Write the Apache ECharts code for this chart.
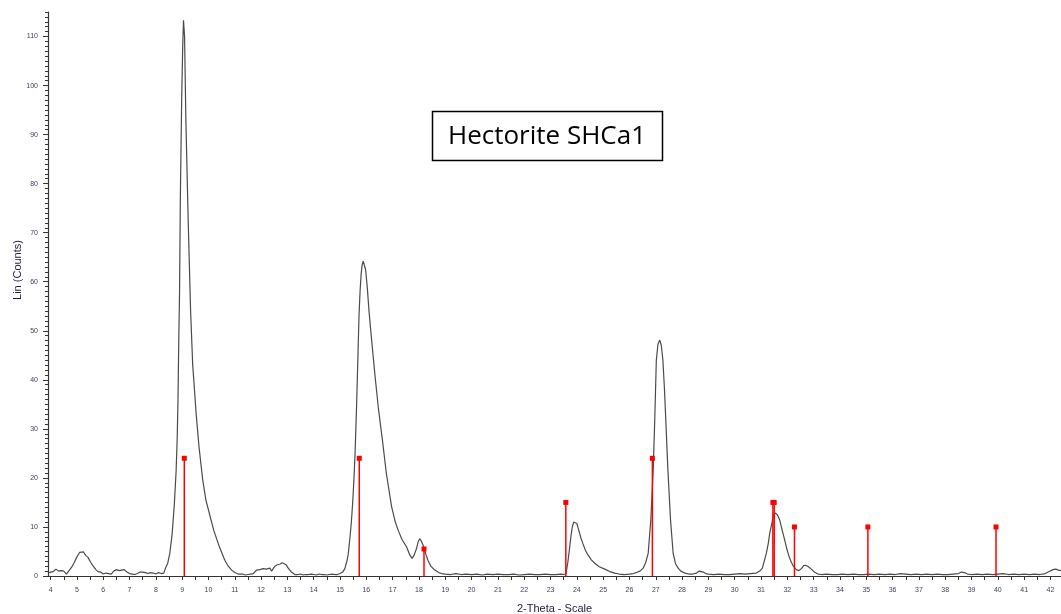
<!DOCTYPE html>
<html>
<head>
<meta charset="utf-8">
<script src="https://cdn.jsdelivr.net/npm/echarts@6/dist/echarts.min.js"></script>
<style>
html,body{margin:0;padding:0;background:#fff;}
#chart{width:1061px;height:614px;}
</style>
</head>
<body>
<div id="chart"></div>
<script>
// Measured XRD scan: [2-theta (deg), counts]
const scan = [
 [3.9,0.6],[4.0,0.8],[4.1,0.9],[4.2,1.4],[4.3,1.0],[4.4,1.1],[4.5,1.0],[4.6,0.4],[4.7,1.1],[4.8,1.8],
 [4.9,2.8],[5.0,3.9],[5.1,4.8],[5.17,5.2],[5.25,4.9],[5.33,4.2],[5.42,3.8],[5.52,2.8],[5.62,2.0],[5.72,1.3],
 [5.8,0.9],[5.9,0.8],[6.0,0.4],[6.1,0.6],[6.2,0.5],[6.3,0.4],[6.4,1.0],[6.5,1.3],[6.6,1.1],[6.7,1.2],
 [6.8,1.3],[6.9,0.8],[7.0,0.5],[7.1,0.4],[7.2,0.3],[7.3,0.5],[7.4,0.8],[7.5,0.8],[7.6,0.7],[7.7,0.5],
 [7.8,0.7],[7.9,0.6],[8.0,0.4],[8.1,0.7],[8.2,0.5],[8.3,0.6],[8.38,1.8],[8.45,2.6],[8.53,4.6],[8.62,8.7],
 [8.7,14.5],[8.77,21.5],[8.81,28],[8.84,35.8],[8.87,48],[8.9,58],[8.93,77],[8.98,97],[9.02,108],[9.05,113.3],
 [9.09,110],[9.14,93],[9.23,72],[9.32,54],[9.4,43],[9.46,38.5],[9.53,33.1],[9.64,26.3],[9.78,19.6],[9.9,15.5],
 [10.03,12.8],[10.2,9.3],[10.41,6.0],[10.62,3.2],[10.75,2.0],[10.88,1.2],[11.0,0.7],[11.13,0.4],
 [11.2,0.3],[11.3,0.4],[11.4,0.2],[11.5,0.3],[11.6,0.4],[11.7,0.5],[11.83,1.2],[11.95,1.3],[12.08,1.5],[12.2,1.4],
 [12.33,1.6],[12.4,1.0],[12.52,2.0],[12.62,2.3],[12.71,2.4],[12.8,2.7],[12.86,3.0],[12.95,2.3],[13.03,1.6],[13.15,0.8],
 [13.28,0.3],[13.4,0.3],[13.5,0.4],[13.6,0.2],[13.7,0.3],[13.8,0.3],[13.9,0.4],[14.0,0.3],[14.1,0.2],[14.2,0.4],
 [14.3,0.3],[14.4,0.3],[14.5,0.2],[14.6,0.3],[14.7,0.4],[14.8,0.3],[14.9,0.3],[15.0,0.5],[15.1,0.8],[15.18,1.5],
 [15.25,2.8],[15.31,4.4],[15.37,7.5],[15.43,11],[15.48,15],[15.53,20],[15.57,25],[15.6,30],[15.63,35],[15.66,41],
 [15.69,47],[15.72,53],[15.76,58],[15.8,61.5],[15.84,63.5],[15.88,64.2],[15.92,63.8],[15.97,62.5],[16.04,58.5],[16.1,54],
 [16.2,48.1],[16.32,41.3],[16.45,34.5],[16.61,27.7],[16.76,20.9],[16.96,14.1],[17.1,11],[17.21,9.3],[17.35,7.5],[17.53,5.9],
 [17.65,4.3],[17.74,3.6],[17.82,4.3],[17.9,5.5],[17.97,7.0],[18.03,7.6],[18.1,7.0],[18.19,5.8],[18.27,4.3],[18.34,3.2],
 [18.45,2.0],[18.6,1.2],[18.75,0.7],[18.86,0.5],
 [19.0,0.4],[19.2,0.3],[19.4,0.5],[19.6,0.3],[19.8,0.4],[20.0,0.3],[20.2,0.4],[20.4,0.2],[20.6,0.4],[20.8,0.3],
 [21.0,0.4],[21.2,0.3],[21.4,0.3],[21.6,0.4],[21.8,0.2],[22.0,0.3],[22.2,0.4],[22.4,0.3],[22.6,0.3],[22.8,0.4],
 [23.0,0.3],[23.2,0.3],[23.4,0.4],[23.5,0.3],
 [23.58,0.4],[23.65,2.5],[23.73,6.0],[23.78,8.3],[23.83,10.1],[23.88,11.0],[23.94,11.3],[24.0,10.7],[24.08,9.2],[24.15,7.8],
 [24.23,6.6],[24.32,5.3],[24.42,4.3],[24.55,3.3],[24.68,2.6],[24.85,1.9],[25.06,1.4],[25.25,0.9],[25.44,0.6],
 [25.6,0.4],[25.8,0.3],[26.0,0.4],[26.15,0.5],
 [26.26,0.7],[26.4,1.0],[26.52,1.6],[26.62,2.8],[26.71,4.6],[26.81,11.4],[26.87,18],[26.9,21.6],[26.96,31.8],[27.02,44],
 [27.08,47.2],[27.15,48.1],[27.21,47],[27.27,44],[27.33,38],[27.38,31.8],[27.46,21.6],[27.56,11.4],[27.66,4.6],[27.75,2.5],
 [27.85,1.6],[27.95,1.0],[28.1,0.6],[28.25,0.4],[28.4,0.4],[28.55,0.6],[28.65,1.0],[28.72,1.1],[28.8,0.8],[28.9,0.5],
 [29.0,0.4],[29.2,0.3],[29.4,0.4],[29.6,0.3],[29.8,0.3],[30.0,0.4],[30.2,0.5],[30.4,0.4],[30.6,0.5],
 [30.82,0.6],[30.95,1.0],[31.05,1.6],[31.12,3.0],[31.2,4.6],[31.27,6.5],[31.33,8.7],[31.4,10.5],[31.46,12.1],[31.52,12.9],
 [31.56,13.1],[31.62,12.5],[31.71,11.4],[31.8,9.4],[31.9,7.3],[31.98,5.5],[32.07,3.9],[32.15,2.8],[32.24,1.9],[32.34,1.3],
 [32.44,1.1],[32.55,1.6],[32.62,2.1],[32.7,2.2],[32.8,1.9],[32.91,1.4],[33.03,0.8],[33.16,0.4],
 [33.3,0.3],[33.5,0.4],[33.7,0.3],[33.9,0.3],[34.1,0.4],[34.3,0.3],[34.5,0.4],[34.7,0.3],[34.9,0.3],[35.1,0.4],
 [35.3,0.3],[35.5,0.4],[35.7,0.3],[35.9,0.4],[36.1,0.3],[36.3,0.5],[36.5,0.4],[36.7,0.3],[36.9,0.4],[37.1,0.3],
 [37.3,0.4],[37.5,0.3],[37.7,0.4],[37.9,0.3],[38.1,0.3],[38.3,0.4],[38.5,0.5],[38.62,0.8],[38.72,0.7],[38.85,0.4],
 [39.0,0.3],[39.2,0.4],[39.4,0.3],[39.6,0.4],[39.8,0.3],[40.0,0.4],[40.2,0.5],[40.4,0.3],[40.6,0.4],[40.8,0.3],
 [41.0,0.4],[41.2,0.3],[41.4,0.4],[41.6,0.3],[41.8,0.5],[41.95,0.9],[42.1,1.3],[42.2,1.4],[42.3,1.2],[42.4,1.1]
];

// Reference pattern sticks (red)
const refPositions = [9.08, 15.73, 18.19, 23.58, 26.87, 31.45, 31.5, 32.27, 35.06, 39.93];
const refHeights   = [24,   24,    5.5,   15,    24,    15,    15,   10,    10,    10];

// Tick labels
const xTickLabels = [4,5,6,7,8,9,10,11,12,13,14,15,16,17,18,19,20,21,22,23,24,25,26,27,28,29,30,31,32,33,34,35,36,37,38,39,40,41,42];
const yTickLabels = [0,10,20,30,40,50,60,70,80,90,100,110];

const xHalfTicks = [];
xTickLabels.forEach(v => { xHalfTicks.push(v); xHalfTicks.push(v + 0.5); });
const yMinorTicks = [];
for (let i = 0; i <= 115; i++) yMinorTicks.push(i);

const refData = refPositions.map((p, i) => [p, refHeights[i]]);

const chart = echarts.init(document.getElementById('chart'), null, {renderer: 'canvas'});
const axisCol = '#333333';
const labCol = '#3d3d5c';

chart.setOption({
  animation: false,
  backgroundColor: '#ffffff',
  grid: {left: 48, right: 0, top: 12, bottom: 38, containLabel: false, outerBoundsMode: 'none'},
  xAxis: {
    type: 'value', min: 3.9, max: 42.4,
    name: '2-Theta - Scale', nameLocation: 'middle', nameGap: 27,
    nameTextStyle: {fontFamily: 'Liberation Sans', fontSize: 11, color: '#1c1c44'},
    axisLine: {lineStyle: {color: axisCol, width: 1.2}},
    axisTick: {show: true, customValues: xHalfTicks, length: 4, inside: false, lineStyle: {color: axisCol}},
    axisLabel: {customValues: xTickLabels, fontSize: 7, color: labCol, margin: 11, fontFamily: 'Liberation Sans'},
    splitLine: {show: false}
  },
  yAxis: [{
    type: 'value', min: 0, max: 115,
    axisLine: {show: true, lineStyle: {color: axisCol, width: 1.2}},
    axisTick: {show: true, customValues: yTickLabels, length: 5, lineStyle: {color: axisCol}},
    axisLabel: {customValues: yTickLabels, fontSize: 7, color: labCol, margin: 10, fontFamily: 'Liberation Sans'},
    splitLine: {show: false}
  }, {
    type: 'value', min: 0, max: 115, position: 'left',
    axisLine: {show: false},
    axisTick: {show: true, customValues: yMinorTicks, length: 3, lineStyle: {color: axisCol}},
    axisLabel: {show: false},
    splitLine: {show: false}
  }],
  graphic: [
    {type: 'text', x: 18, y: 270, rotation: Math.PI / 2,
     style: {text: 'Lin (Counts)', font: '11px "Liberation Sans"', fill: '#1c1c44', textAlign: 'center', textVerticalAlign: 'middle'}},
    {type: 'rect', shape: {x: 432.5, y: 111.5, width: 230, height: 49},
     style: {fill: '#ffffff', stroke: '#000000', lineWidth: 1.5}, z: 100},
    {type: 'text', x: 547, y: 137, z: 101,
     style: {text: 'Hectorite SHCa1', font: '26px "Open Sans"', fill: '#000000', textAlign: 'center', textVerticalAlign: 'middle'}}
  ],
  series: [
    {
      type: 'line', data: scan, xAxisIndex: 0, yAxisIndex: 0,
      showSymbol: false, symbol: 'none', smooth: false,
      lineStyle: {color: '#4a4a4a', width: 1.2},
      z: 3
    },
    {
      type: 'custom', data: refData, xAxisIndex: 0, yAxisIndex: 0,
      encode: {x: 0, y: 1},
      renderItem: function (params, api) {
        const x = api.value(0), h = api.value(1);
        const base = api.coord([x, 0]);
        const top = api.coord([x, h]);
        return {
          type: 'group',
          children: [
            {type: 'line', shape: {x1: base[0], y1: base[1], x2: top[0], y2: top[1]},
             style: {stroke: '#ff0000', lineWidth: 1.5}},
            {type: 'rect', shape: {x: top[0] - 2.5, y: top[1] - 2.5, width: 5, height: 5},
             style: {fill: '#ff0000'}}
          ]
        };
      },
      z: 4
    }
  ]
});
</script>
</body>
</html>
